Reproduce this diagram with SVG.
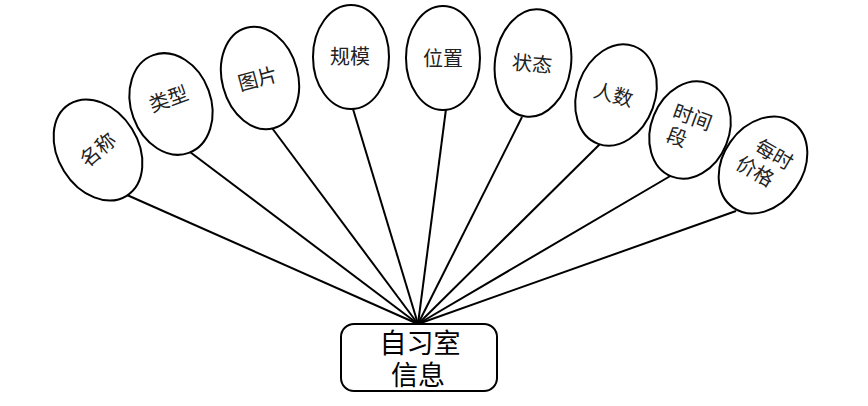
<svg xmlns="http://www.w3.org/2000/svg" width="868" height="406" viewBox="0 0 868 406">
<style>
.e{fill:#fff;stroke:#000;stroke-width:2}
.t{font-family:"Liberation Serif","Noto Sans CJK SC",serif;font-size:20px;fill:#222;text-anchor:middle}
.b{font-family:"Liberation Sans","Noto Sans CJK SC",sans-serif;font-size:27px;fill:#000;text-anchor:middle}
.c line{stroke:#000;stroke-width:2}
</style>
<rect width="868" height="406" fill="#fff"/>
<g class="c" id="connectors">
<line x1="418" y1="324" x2="127" y2="195"/>
<line x1="418" y1="324" x2="190" y2="152"/>
<line x1="418" y1="324" x2="272" y2="128"/>
<line x1="418" y1="324" x2="353" y2="109"/>
<line x1="418" y1="324" x2="446" y2="109"/>
<line x1="418" y1="324" x2="522" y2="117"/>
<line x1="418" y1="324" x2="600" y2="144"/>
<line x1="418" y1="324" x2="672" y2="175"/>
<line x1="418" y1="324" x2="736" y2="211"/>
</g>
<g id="n1"><ellipse class="e" cx="98" cy="150" rx="40" ry="54" transform="rotate(-32 98 150)"/><text class="t" x="98" y="157" transform="rotate(-40 98 150)">名称</text></g>
<g id="n2"><ellipse class="e" cx="171" cy="104" rx="40" ry="52" transform="rotate(-20 171 104)"/><text class="t" x="169" y="106" transform="rotate(-20 169 100)">类型</text></g>
<g id="n3"><ellipse class="e" cx="260" cy="78" rx="38" ry="52" transform="rotate(-15 260 78)"/><text class="t" x="258" y="86" transform="rotate(-15 258 80)">图片</text></g>
<g id="n4"><ellipse class="e" cx="351" cy="57" rx="38" ry="52"/><text class="t" x="350" y="64">规模</text></g>
<g id="n5"><ellipse class="e" cx="443" cy="58" rx="37" ry="52"/><text class="t" x="443" y="66">位置</text></g>
<g id="n6"><ellipse class="e" cx="533" cy="63" rx="38" ry="54" transform="rotate(8 533 63)"/><text class="t" x="532" y="71" transform="rotate(5 532 65)">状态</text></g>
<g id="n7"><ellipse class="e" cx="616" cy="95" rx="39" ry="52" transform="rotate(20 616 95)"/><text class="t" x="613" y="102" transform="rotate(15 613 96)">人数</text></g>
<g id="n8"><ellipse class="e" cx="690" cy="130" rx="39" ry="50" transform="rotate(22 690 130)"/><text class="t" transform="translate(690 124) rotate(20)"><tspan x="0" y="0">时间</tspan><tspan x="-8" y="24">段</tspan></text></g>
<g id="n9"><ellipse class="e" cx="763" cy="165" rx="40" ry="52" transform="rotate(35 763 165)"/><text class="t" transform="translate(764 164) rotate(30)"><tspan x="4" y="-6">每时</tspan><tspan x="-4" y="18">价格</tspan></text></g>
<g id="center"><rect x="341" y="324" width="156" height="67" rx="13" ry="13" fill="#fff" stroke="#000" stroke-width="2"/><text class="b"><tspan x="420" y="353">自习室</tspan><tspan x="418" y="385">信息</tspan></text></g>
</svg>
